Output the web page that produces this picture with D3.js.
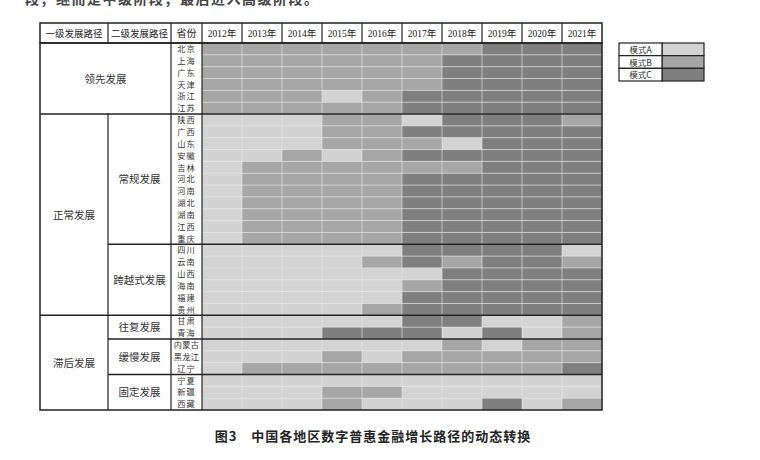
<!DOCTYPE html>
<html><head><meta charset="utf-8">
<script src="https://cdn.jsdelivr.net/npm/d3@7"></script>
<style>body{margin:0;background:#fff}svg{display:block}</style>
</head><body>
<script>
const years = ["2012年","2013年","2014年","2015年","2016年","2017年","2018年","2019年","2020年","2021年"];
const provinces = ["北京","上海","广东","天津","浙江","江苏",
  "陕西","广西","山东","安徽","吉林","河北","河南","湖北","湖南","江西","重庆",
  "四川","云南","山西","海南","福建","贵州",
  "甘肃","青海","内蒙古","黑龙江","辽宁","宁夏","新疆","西藏"];
const level1 = [{name:"领先发展",from:"北京",to:"江苏"},{name:"正常发展",from:"陕西",to:"贵州"},{name:"滞后发展",from:"甘肃",to:"西藏"}];
const level2 = [{name:"",from:"北京",to:"江苏"},{name:"常规发展",from:"陕西",to:"重庆"},{name:"跨越式发展",from:"四川",to:"贵州"},
  {name:"往复发展",from:"甘肃",to:"青海"},{name:"缓慢发展",from:"内蒙古",to:"辽宁"},{name:"固定发展",from:"宁夏",to:"西藏"}];
const modes = ["模式A","模式B","模式C"];
// pattern per province, 2012..2021
const patterns = [
  "BBBBBBBCCC","BBBBBBCCCC","BBBBBBCCCC","BBBBBBCCCC","BBBABCCCCC","BBBBBCCCCC",
  "AAABBACCCB","AAABBCCCCC","AAABBBACCC","AABABCCCCC","ABBBBBBCCC","ABBBBCCCCC","ABBBBCCCCC","ABBBBCCCCC","ABBBBCCCCC","ABBBBCCCCC","ABBBBCCCCC",
  "AAAAACCCCA","AAAABCBCCB","AAAAAACCCC","AAAAABCCCC","AAAAACCCCC","AAAABCCCCC",
  "AAAAACCAAB","AAACCCACAB","AAAAAABABB","AAABABBBBB","ABBBBBBBBC","AAAAAAAAAA","AAABBAAAAA","AAABAAACAB"];
const colors = {A:"#d3d3d3",B:"#a6a6a6",C:"#7f7f7f"};
const caption = "图3　中国各地区数字普惠金融增长路径的动态转换";
const topText = "段；继而是中级阶段；最后进入高级阶段。";

const W=760,H=460;
const svg=d3.select("body").append("svg").attr("width",W).attr("height",H);
const cjk='"Noto Sans CJK SC","Liberation Serif",serif';
const serif='"Liberation Serif","Noto Sans CJK SC",serif';
const x0=40,x1=108,x2=171,x3=202,xEnd=602,yTop=23,yHead=43,yBot=410;

const x=d3.scaleBand().domain(years).range([x3,xEnd]);
const y=d3.scaleBand().domain(provinces).range([yHead,yBot]);
const c=d3.scaleOrdinal().domain(["A","B","C"]).range([colors.A,colors.B,colors.C]);

const cells=[];
provinces.forEach((p,i)=>years.forEach((yr,j)=>cells.push({p,yr,v:patterns[i][j]})));
svg.append("g").selectAll("rect").data(cells).join("rect")
  .attr("x",d=>x(d.yr)).attr("y",d=>y(d.p)).attr("width",x.bandwidth()).attr("height",y.bandwidth())
  .attr("fill",d=>c(d.v));
// thin light grid
const g=svg.append("g").attr("stroke","#e4e4e4").attr("stroke-width",0.8).attr("stroke-opacity",0.8);
years.slice(1).forEach(yr=>g.append("line").attr("x1",x(yr)).attr("x2",x(yr)).attr("y1",yHead).attr("y2",yBot));
provinces.slice(1).forEach(p=>g.append("line").attr("x1",x3).attr("x2",xEnd).attr("y1",y(p)).attr("y2",y(p)));

// header
const L=svg.append("g").attr("stroke","#222").attr("fill","none");
L.append("rect").attr("x",x0).attr("y",yTop).attr("width",xEnd-x0).attr("height",yHead-yTop).attr("stroke-width",1.5);
[x1,x2,x3].concat(years.slice(1).map(v=>x(v))).forEach(xx=>L.append("line").attr("x1",xx).attr("x2",xx).attr("y1",yTop).attr("y2",yHead).attr("stroke-width",1.2));
const headTxt=[{t:"一级发展路径",cx:(x0+x1)/2},{t:"二级发展路径",cx:(x1+x2)/2},{t:"省份",cx:(x2+x3)/2}]
  .concat(years.map(v=>({t:v,cx:x(v)+x.bandwidth()/2})));
svg.append("g").selectAll("text").data(headTxt).join("text").attr("x",d=>d.cx).attr("y",(yTop+yHead)/2+3.5)
  .attr("text-anchor","middle").attr("font-family",serif).attr("font-size",d=>d.t.length>4?9.5:10).attr("fill","#222").text(d=>d.t);

// body borders
L.append("rect").attr("x",x0).attr("y",yHead).attr("width",xEnd-x0).attr("height",yBot-yHead).attr("stroke-width",1.5);
[x1,x2,x3].forEach(xx=>L.append("line").attr("x1",xx).attr("x2",xx).attr("y1",yHead).attr("y2",yBot).attr("stroke-width",1.2));
level2.forEach((d,i)=>{ if(i===0) return;
  const yy=y(d.from); const full=level1.some(l=>l.from===d.from);
  L.append("line").attr("x1",full?x0:x1).attr("x2",xEnd).attr("y1",yy).attr("y2",yy).attr("stroke-width",1.5);});
// 领先 spans first two columns: hide line x1 in that group
svg.append("rect").attr("x",x1-1).attr("y",y("北京")+1).attr("width",2).attr("height",y("江苏")+y.bandwidth()-y("北京")-2).attr("fill","#fff");

// labels
const span=d=>({y0:y(d.from),y1:y(d.to)+y.bandwidth()});
svg.append("g").selectAll("text").data(level1).join("text")
  .attr("x",d=>d.name==="领先发展"?(x0+x2)/2:(x0+x1)/2)
  .attr("y",d=>(span(d).y0+span(d).y1)/2+4).attr("text-anchor","middle")
  .attr("font-family",cjk).attr("font-size",10.5).attr("fill","#333").text(d=>d.name);
svg.append("g").selectAll("text").data(level2.filter(d=>d.name)).join("text")
  .attr("x",(x1+x2)/2).attr("y",d=>(span(d).y0+span(d).y1)/2+4).attr("text-anchor","middle")
  .attr("font-family",cjk).attr("font-size",10.5).attr("fill","#333").text(d=>d.name);
svg.append("g").selectAll("text").data(provinces).join("text")
  .attr("x",(x2+x3)/2).attr("y",d=>y(d)+y.bandwidth()/2+3.2).attr("text-anchor","middle")
  .attr("font-family",cjk).attr("font-size",8.2).attr("letter-spacing",d=>d.length>2?0.3:1).attr("fill","#333").text(d=>d);

// legend
const ly=d3.scaleBand().domain(modes).range([43,81]);
const lg=svg.append("g");
lg.selectAll("rect.sw").data(modes).join("rect").attr("class","sw").attr("x",662).attr("y",d=>ly(d)).attr("width",42).attr("height",ly.bandwidth())
  .attr("fill",(d,i)=>c(["A","B","C"][i])).attr("stroke","#222").attr("stroke-width",1.2);
lg.selectAll("rect.lb").data(modes).join("rect").attr("class","lb").attr("x",619).attr("y",d=>ly(d)).attr("width",43).attr("height",ly.bandwidth())
  .attr("fill","#fff").attr("stroke","#222").attr("stroke-width",1.2);
lg.selectAll("text").data(modes).join("text").attr("x",640.5).attr("y",d=>ly(d)+ly.bandwidth()/2+3.5).attr("text-anchor","middle")
  .attr("font-family",cjk).attr("font-size",8.5).attr("fill","#333").text(d=>d);

// caption
svg.append("text").attr("x",373).attr("y",441).attr("text-anchor","middle").attr("font-family",cjk)
  .attr("font-weight","bold").attr("font-size",13).attr("fill","#222").attr("letter-spacing",1).text(caption);
svg.append("text").attr("x",25).attr("y",4).attr("font-family",cjk).attr("font-weight","bold")
  .attr("font-size",14).attr("fill","#444").attr("letter-spacing",1.5).text(topText);
</script>
</body></html>
